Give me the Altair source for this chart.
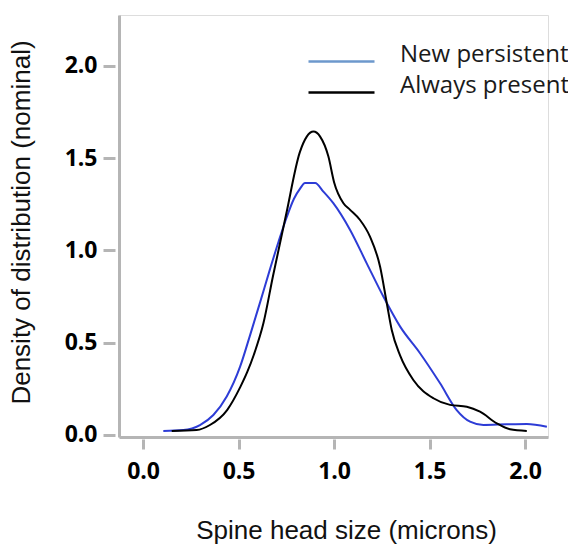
import altair as alt
import pandas as pd

# ---- data ----
new_x = [0.106, 0.211, 0.298, 0.368, 0.438, 0.508, 0.56, 0.613, 0.665, 0.71, 0.752, 0.79,
         0.822, 0.848, 0.901, 0.944, 0.996, 1.084, 1.171, 1.258, 1.346, 1.45, 1.555, 1.642,
         1.712, 1.782, 1.904, 2.009, 2.114]
new_y = [0.022, 0.027, 0.054, 0.108, 0.208, 0.37, 0.54, 0.72, 0.90, 1.05, 1.18, 1.28,
         1.335, 1.365, 1.365, 1.319, 1.256, 1.111, 0.93, 0.75, 0.587, 0.443, 0.28, 0.135,
         0.072, 0.054, 0.058, 0.06, 0.045]

alw_x = [0.15, 0.28, 0.35, 0.44, 0.51, 0.545, 0.58, 0.63, 0.68, 0.75, 0.82, 0.857, 0.892,
         0.927, 0.97, 1.0, 1.049, 1.084, 1.136, 1.188, 1.241, 1.276, 1.302, 1.346, 1.415,
         1.52, 1.607, 1.695, 1.764, 1.852, 1.921, 2.009]
alw_y = [0.022, 0.027, 0.054, 0.135, 0.262, 0.34, 0.435, 0.605, 0.86, 1.20, 1.53, 1.617,
         1.644, 1.617, 1.51, 1.37, 1.256, 1.22, 1.165, 1.075, 0.912, 0.714, 0.569, 0.43,
         0.298, 0.199, 0.163, 0.153, 0.126, 0.063, 0.031, 0.022]

series_names = ["New persistent", "Always present"]
series_colors = ["#2d3cd6", "#000000"]
legend_colors = ["#6d98cc", "#000000"]
x_ticks = [0.0, 0.5, 1.0, 1.5, 2.0]
y_ticks = [0.0, 0.5, 1.0, 1.5, 2.0]
x_title = "Spine head size (microns)"
y_title = "Density of distribution (nominal)"

rows = []
for i, (a, b) in enumerate(zip(new_x, new_y)):
    rows.append({"series": series_names[0], "size": a, "density": b, "order": i})
for i, (a, b) in enumerate(zip(alw_x, alw_y)):
    rows.append({"series": series_names[1], "size": a, "density": b, "order": i})
df = pd.DataFrame(rows)

AXIS_GRAY = "#b5b5b5"
LABEL_FONT = "Open Sans"
TITLE_FONT = "Liberation Sans"

xs = alt.Scale(domain=[-0.126, 2.12], nice=False, zero=False)
ys = alt.Scale(domain=[-0.011, 2.276], nice=False, zero=False)

base = alt.Chart(df)

# visible curves + plain axis lines
lines = base.mark_line(strokeWidth=2, interpolate="monotone", clip=True).encode(
    x=alt.X("size:Q", scale=xs, axis=alt.Axis(
        orient="bottom", domain=True, ticks=False, labels=False, title=None, grid=False,
        domainColor=AXIS_GRAY, domainWidth=3)),
    y=alt.Y("density:Q", scale=ys, axis=alt.Axis(
        orient="left", domain=True, ticks=False, labels=False, title=None, grid=False,
        domainColor=AXIS_GRAY, domainWidth=3)),
    stroke=alt.Stroke("series:N", scale=alt.Scale(domain=series_names, range=series_colors),
                      legend=None),
    order="order:Q",
)

# empty layer that carries the offset ticks, labels, titles and the legend
guides = base.transform_filter("datum.order < 0").mark_line(strokeWidth=2.5).encode(
    x=alt.X("size:Q", scale=xs, axis=alt.Axis(
        orient="bottom", domain=False, grid=False, values=x_ticks, format=".1f",
        offset=2, tickSize=10, tickWidth=3, tickColor=AXIS_GRAY,
        labelFont=LABEL_FONT, labelFontSize=23, labelFontWeight="bold", labelColor="#000000",
        labelPadding=11, title=x_title, titleFont=TITLE_FONT, titleFontSize=26,
        titleFontWeight="normal", titleColor="#111111", titlePadding=34, titleX=227)),
    y=alt.Y("density:Q", scale=ys, axis=alt.Axis(
        orient="left", domain=False, grid=False, values=y_ticks, format=".1f",
        offset=4, tickSize=12, tickWidth=3, tickColor=AXIS_GRAY,
        labelFont=LABEL_FONT, labelFontSize=23, labelFontWeight="bold", labelColor="#000000",
        labelPadding=6, title=y_title, titleFont=TITLE_FONT, titleFontSize=26,
        titleFontWeight="normal", titleColor="#111111", titlePadding=30, titleY=207)),
    stroke=alt.Stroke("series:N", scale=alt.Scale(domain=series_names, range=legend_colors),
                      legend=alt.Legend(
                          title=None, orient="none", legendX=210, legendY=34,
                          symbolType="M-3,0H3", symbolSize=484, symbolStrokeWidth=2.5,
                          labelFont=LABEL_FONT, labelFontSize=24, labelColor="#1a1a1a",
                          labelBaseline="alphabetic", labelLimit=300,
                          labelOffset=46, rowPadding=6, padding=0)),
    order="order:Q",
)

chart = alt.layer(lines, guides).resolve_axis(
    x="independent", y="independent"
).resolve_scale(stroke="independent").properties(
    width=429, height=422,
    autosize=alt.AutoSizeParams(type="none"),
    padding={"left": 119, "top": 15, "right": 20, "bottom": 111},
).configure_view(stroke=None).configure(background="white")

chart.save("out.html", embed_options={"renderer": "svg", "actions": False})
